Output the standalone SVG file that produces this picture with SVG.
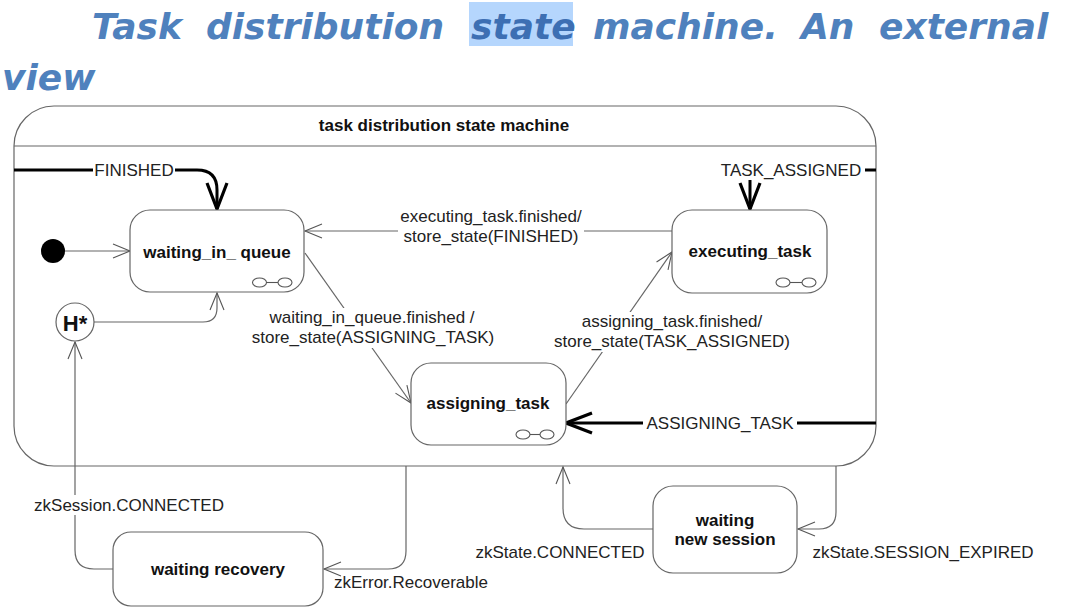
<svg xmlns="http://www.w3.org/2000/svg" width="1069" height="610" viewBox="0 0 1069 610">
<style>
.title{font-family:"DejaVu Sans",Verdana,sans-serif;font-weight:bold;font-style:italic;font-size:36px;fill:#4f81bd}
.node{fill:#fff;stroke:#666;stroke-width:1.2}
.nt{font-family:"Liberation Sans",Arial,sans-serif;font-weight:bold;font-size:17px;fill:#111;text-anchor:middle}
.lbl{font-family:"Liberation Sans",Arial,sans-serif;font-size:17px;fill:#222;text-anchor:middle}
.edge{fill:none;stroke:#666;stroke-width:1.2}
.thick{fill:none;stroke:#000;stroke-width:3}
.bg{fill:#fff}
.icon{fill:#fff;stroke:#555;stroke-width:1.1}
</style>
<defs>
<marker id="a" markerUnits="userSpaceOnUse" viewBox="-20 -10 22 20" markerWidth="22" markerHeight="20" refX="0" refY="0" orient="auto">
<path d="M-17,-7 L0,0 L-17,7" fill="none" stroke="#555" stroke-width="1.1"/>
</marker>
<marker id="at" markerUnits="userSpaceOnUse" viewBox="-30 -13 32 26" markerWidth="32" markerHeight="26" refX="0" refY="0" orient="auto">
<path d="M-26,-10 L0,0 L-26,10" fill="none" stroke="#000" stroke-width="3.2" stroke-linejoin="miter"/>
</marker>
</defs>
<rect x="0" y="0" width="1069" height="610" fill="#fff"/>
<g id="title">
<rect x="469" y="2" width="104" height="44" fill="#b5d6fd"/>
<text class="title" x="92" y="39">Task</text>
<text class="title" x="206" y="39">distribution</text>
<text class="title" x="471" y="39" style="fill:#3d6fb3">state</text>
<text class="title" x="593" y="39">machine.</text>
<text class="title" x="801" y="39">An</text>
<text class="title" x="879" y="39">external</text>
<text class="title" x="2" y="90">view</text>
</g>
<g id="machine">
<rect x="14" y="106" width="862" height="360" rx="40" ry="40" class="node"/>
<line x1="14" y1="146" x2="876" y2="146" stroke="#666" stroke-width="1.2"/>
<text class="nt" x="444" y="131">task distribution state machine</text>
</g>
<g id="connectors">
<path class="thick" d="M14,170 H197 Q217,170 217,190 V209" marker-end="url(#at)"/>
<path class="thick" d="M876,170 H760 Q750,170 750,180 V209" marker-end="url(#at)"/>
<path class="thick" d="M876,423 H566" marker-end="url(#at)"/>
<path class="edge" d="M672,231 H305" marker-end="url(#a)"/>
<path class="edge" d="M305,253 L411,403" marker-end="url(#a)"/>
<path class="edge" d="M566,404 L672,252" marker-end="url(#a)"/>
<path class="edge" d="M64,251 H130" marker-end="url(#a)"/>
<path class="edge" d="M94,322 H203 Q217,322 217,308 V293" marker-end="url(#a)"/>
<path class="edge" d="M406,466 V551 Q406,569 388,569 H324" marker-end="url(#a)"/>
<path class="edge" d="M113,569 H94 Q75,569 75,550 V342" marker-end="url(#a)"/>
<path class="edge" d="M836,466 V512 Q836,529 819,529 H798" marker-end="url(#a)"/>
<path class="edge" d="M653,529 H584 Q563,529 563,508 V467" marker-end="url(#a)"/>
<rect class="bg" x="93" y="160" width="82" height="20"/>
<text class="lbl" x="134" y="176">FINISHED</text>
<rect class="bg" x="717" y="160" width="148" height="20"/>
<text class="lbl" x="791" y="176">TASK_ASSIGNED</text>
<rect class="bg" x="643" y="413" width="154" height="20"/>
<text class="lbl" x="720" y="429">ASSIGNING_TASK</text>
<rect class="bg" x="398" y="206" width="186" height="42"/>
<text class="lbl" x="491" y="222">executing_task.finished/</text>
<text class="lbl" x="491" y="242">store_state(FINISHED)</text>
<rect class="bg" x="247" y="308" width="252" height="40"/>
<text class="lbl" x="372" y="323">waiting_in_queue.finished /</text>
<text class="lbl" x="373" y="343">store_state(ASSIGNING_TASK)</text>
<rect class="bg" x="549" y="312" width="246" height="40"/>
<text class="lbl" x="672" y="327">assigning_task.finished/</text>
<text class="lbl" x="672" y="347">store_state(TASK_ASSIGNED)</text>
<rect class="bg" x="31" y="495" width="196" height="20"/>
<text class="lbl" x="129" y="511">zkSession.CONNECTED</text>
<text class="lbl" x="411" y="588">zkError.Recoverable</text>
<text class="lbl" x="560" y="558">zkState.CONNECTED</text>
<text class="lbl" x="923" y="558">zkState.SESSION_EXPIRED</text>
</g>
<g id="initial">
<circle cx="53" cy="251" r="12" fill="#000"/>
</g>
<g id="history">
<circle cx="75" cy="322" r="19" class="node"/>
<text class="nt" x="75" y="331" style="font-size:22px">H*</text>
</g>
<g id="waiting_in_queue">
<rect x="130" y="210" width="174" height="82" rx="20" ry="20" class="node"/>
<text class="nt" x="217" y="258">waiting_in_ queue</text>
<ellipse class="icon" cx="259.5" cy="282.5" rx="7" ry="4.5"/>
<ellipse class="icon" cx="285" cy="282.5" rx="7" ry="4.5"/>
<line x1="266.5" y1="282.5" x2="278" y2="282.5" stroke="#555" stroke-width="1.1"/>
</g>
<g id="executing_task">
<rect x="672" y="210" width="155" height="83" rx="20" ry="20" class="node"/>
<text class="nt" x="750" y="257">executing_task</text>
<ellipse class="icon" cx="783" cy="282.5" rx="7" ry="4.5"/>
<ellipse class="icon" cx="809" cy="282.5" rx="7" ry="4.5"/>
<line x1="790" y1="282.5" x2="802" y2="282.5" stroke="#555" stroke-width="1.1"/>
</g>
<g id="assigning_task">
<rect x="411" y="363" width="155" height="82" rx="20" ry="20" class="node"/>
<text class="nt" x="488" y="409">assigning_task</text>
<ellipse class="icon" cx="523" cy="434.5" rx="7" ry="4.5"/>
<ellipse class="icon" cx="547" cy="434.5" rx="7" ry="4.5"/>
<line x1="530" y1="434.5" x2="540" y2="434.5" stroke="#555" stroke-width="1.1"/>
</g>
<g id="waiting_recovery">
<rect x="113" y="532" width="210" height="74" rx="18" ry="18" class="node"/>
<text class="nt" x="218" y="575">waiting recovery</text>
</g>
<g id="waiting_new_session">
<rect x="653" y="486" width="144" height="87" rx="20" ry="20" class="node"/>
<text class="nt" x="725" y="526">waiting</text>
<text class="nt" x="725" y="545">new session</text>
</g>
</svg>
